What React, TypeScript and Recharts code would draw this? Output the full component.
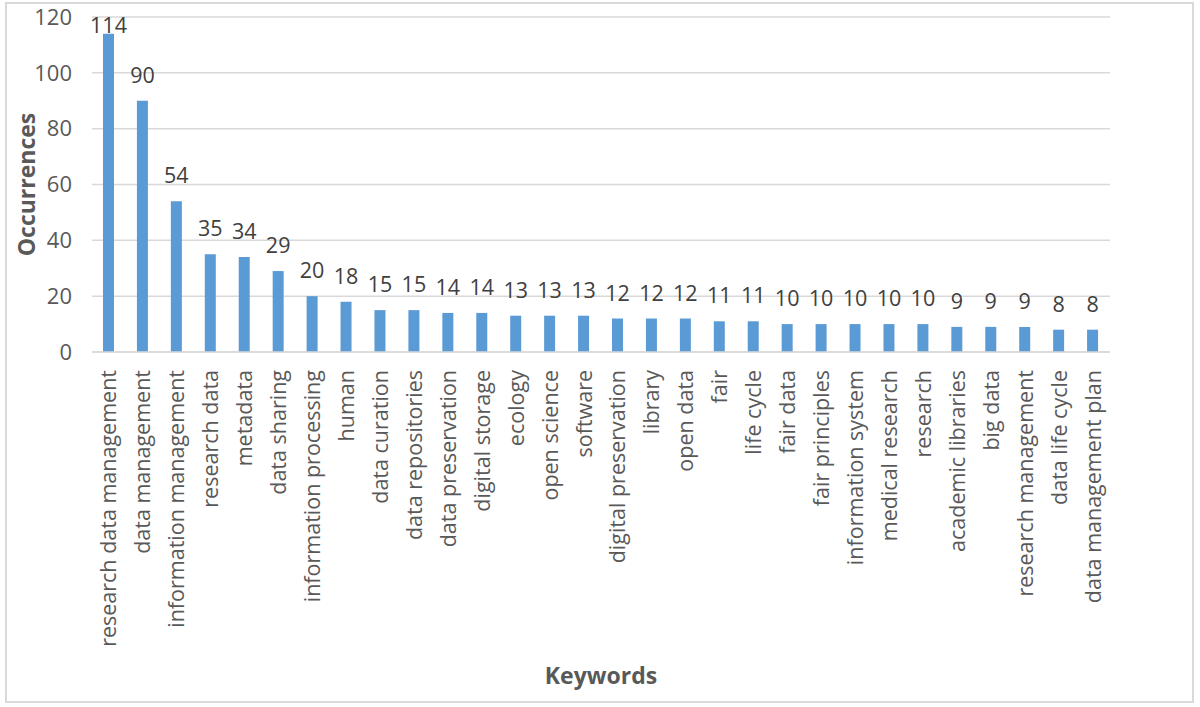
import React from 'react'
import { BarChart, Bar, XAxis, YAxis, CartesianGrid, LabelList, Label } from 'recharts'

const keywords = [
  'research data management', 'data management', 'information management', 'research data',
  'metadata', 'data sharing', 'information processing', 'human', 'data curation',
  'data repositories', 'data preservation', 'digital storage', 'ecology', 'open science',
  'software', 'digital preservation', 'library', 'open data', 'fair', 'life cycle',
  'fair data', 'fair principles', 'information system', 'medical research', 'research',
  'academic libraries', 'big data', 'research management', 'data life cycle', 'data management plan',
]

const occurrences = [
  114, 90, 54, 35, 34, 29, 20, 18, 15, 15, 14, 14, 13, 13, 13, 12, 12, 12, 11, 11,
  10, 10, 10, 10, 10, 9, 9, 9, 8, 8,
]

const yTicks = [0, 20, 40, 60, 80, 100, 120]

const data = keywords.map((name, i) => ({ name, value: occurrences[i] }))

const FONT = '"Open Sans", "Noto Sans", sans-serif'

function KeywordTick(props: any) {
  const { x, y, payload } = props
  const ty = y + 10
  return (
    <text
      x={x}
      y={ty}
      transform={`rotate(-90, ${x}, ${ty})`}
      textAnchor="end"
      dy="0.35em"
      fontSize={21.5}
      fill="#595959"
      fontFamily={FONT}
    >
      {payload.value}
    </text>
  )
}

// value label above each bar; kept inside the chart frame at the top like the original
function ValueLabel(props: any) {
  const { x, y, width, value } = props
  const baseline = Math.max(y - 18, 33)
  return (
    <text
      x={x + width / 2}
      y={baseline}
      textAnchor="middle"
      fontSize={21.5}
      fill="#404040"
      fontFamily={FONT}
    >
      {value}
    </text>
  )
}

if (typeof document !== 'undefined') document.body.style.margin = '0'

export default function App() {
  return (
    <div style={{ position: 'relative', width: 1200, height: 707, background: '#fff', fontFamily: FONT }}>
      <div
        style={{
          position: 'absolute', left: 5, top: 2, width: 1189, height: 701,
          border: '2px solid #d9d9d9', boxSizing: 'border-box', pointerEvents: 'none',
        }}
      />
      <BarChart
        width={1200}
        height={707}
        data={data}
        margin={{ top: 17, right: 90, left: 0, bottom: 0 }}
      >
        <CartesianGrid vertical={false} stroke="#d9d9d9" strokeWidth={1.5} />
        <XAxis
          dataKey="name"
          interval={0}
          height={355}
          tickLine={false}
          axisLine={{ stroke: '#d9d9d9', strokeWidth: 1.5 }}
          tick={<KeywordTick />}
        >
          <Label
            value="Keywords"
            position="insideBottom"
            offset={23}
            style={{ fontSize: 23, fontWeight: 700, fill: '#595959', fontFamily: FONT }}
          />
        </XAxis>
        <YAxis
          width={92}
          domain={[0, 120]}
          ticks={yTicks}
          axisLine={false}
          tickLine={false}
          tickMargin={14}
          tick={{ fontSize: 22, fill: '#595959', fontFamily: FONT }}
        >
          <Label
            value="Occurrences"
            angle={-90}
            position="insideLeft"
            offset={27}
            style={{ textAnchor: 'middle', fontSize: 23, fontWeight: 700, fill: '#595959', fontFamily: FONT }}
          />
        </YAxis>
        <Bar dataKey="value" fill="#5B9BD5" barSize={11} isAnimationActive={false}>
          <LabelList dataKey="value" content={<ValueLabel />} />
        </Bar>
      </BarChart>
    </div>
  )
}
